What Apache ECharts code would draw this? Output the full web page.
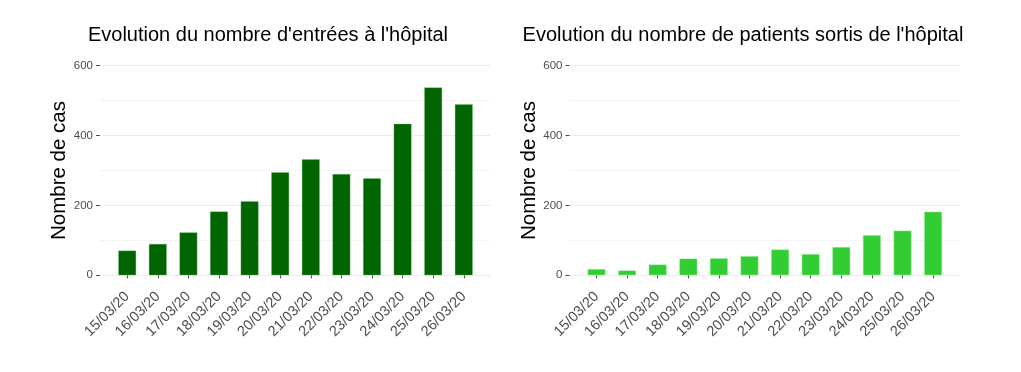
<!DOCTYPE html>
<html>
<head>
<meta charset="utf-8">
<script src="https://cdn.jsdelivr.net/npm/echarts@6/dist/echarts.min.js"></script>
<style>
html,body{margin:0;padding:0;background:#fff;}
#c{width:1021px;height:372px;}
</style>
</head>
<body>
<div id="c"></div>
<script>
const categories = ['15/03/20','16/03/20','17/03/20','18/03/20','19/03/20','20/03/20','21/03/20','22/03/20','23/03/20','24/03/20','25/03/20','26/03/20'];
const entrees = [71, 90, 123, 183, 212, 295, 332, 290, 278, 434, 538, 490];
const sorties = [18, 14, 31, 48, 49, 55, 74, 61, 81, 115, 128, 182];
const yTicks = [0, 200, 400, 600];
const titleLeft = "Evolution du nombre d'entrées à l'hôpital";
const titleRight = "Evolution du nombre de patients sortis de l'hôpital";
const yName = 'Nombre de cas';

const FONT = '"Liberation Sans", Arial, sans-serif';
const chart = echarts.init(document.getElementById('c'), null, {renderer:'canvas'});

const TOP = 65.7, H = 209.6;
const yMin = yTicks[0], yMax = yTicks[yTicks.length-1], yInt = yTicks[1]-yTicks[0];

function wideY(gi){
  return {
    gridIndex: gi, type:'value', min:yMin, max:yMax, interval:yInt,
    name: yName, nameLocation:'middle', nameGap:30, nameRotate:90,
    nameTextStyle:{fontFamily:FONT, fontSize:20.5, color:'#000'},
    axisLine:{show:false},
    axisTick:{show:true, length:4, lineStyle:{color:'#4d4d4d', width:1}},
    axisLabel:{fontFamily:FONT, fontSize:11.5, color:'#4d4d4d', margin:7},
    splitLine:{show:true, lineStyle:{color:'#ebebeb', width:1}},
    minorTick:{show:false, splitNumber:2},
    minorSplitLine:{show:true, lineStyle:{color:'#f4f4f4', width:1}}
  };
}
function barY(gi){
  return {gridIndex:gi, type:'value', min:yMin, max:yMax, interval:yInt, show:false, splitLine:{show:false}};
}
function wideX(gi){
  return {gridIndex:gi, type:'value', min:0, max:1, show:false, splitLine:{show:false}};
}
function barX(gi){
  return {
    gridIndex:gi, type:'category', data:categories, offset:10,
    axisLine:{show:false},
    axisTick:{show:true, alignWithLabel:true, length:3, lineStyle:{color:'#4d4d4d'}},
    axisLabel:{interval:0, rotate:45, fontFamily:FONT, fontSize:14.5, color:'#4d4d4d', margin:9},
    splitLine:{show:false}
  };
}

chart.setOption({
  animation:false,
  backgroundColor:'#fff',
  title:[
    {text:titleLeft, left:263, top:20, textAlign:'center', textStyle:{fontFamily:FONT, fontSize:20, fontWeight:'normal', color:'#000'}},
    {text:titleRight, left:738, top:20, textAlign:'center', textStyle:{fontFamily:FONT, fontSize:20, fontWeight:'normal', color:'#000'}}
  ],
  grid:[
    {left:100, top:TOP, width:390, height:H},
    {left:111.9, top:TOP, width:367.2, height:H},
    {left:569.5, top:TOP, width:390.5, height:H},
    {left:581.2, top:TOP, width:367.2, height:H}
  ],
  xAxis:[wideX(0), barX(1), wideX(2), barX(3)],
  yAxis:[wideY(0), barY(1), wideY(2), barY(3)],
  series:[
    {type:'bar', xAxisIndex:1, yAxisIndex:1, data:entrees, barWidth:18,
     itemStyle:{color:'#006400', borderColor:'rgba(120,200,120,0.6)', borderWidth:0.6}},
    {type:'bar', xAxisIndex:3, yAxisIndex:3, data:sorties, barWidth:18,
     itemStyle:{color:'#32CD32', borderColor:'rgba(170,240,170,0.7)', borderWidth:0.6}}
  ]
});
</script>
</body>
</html>
